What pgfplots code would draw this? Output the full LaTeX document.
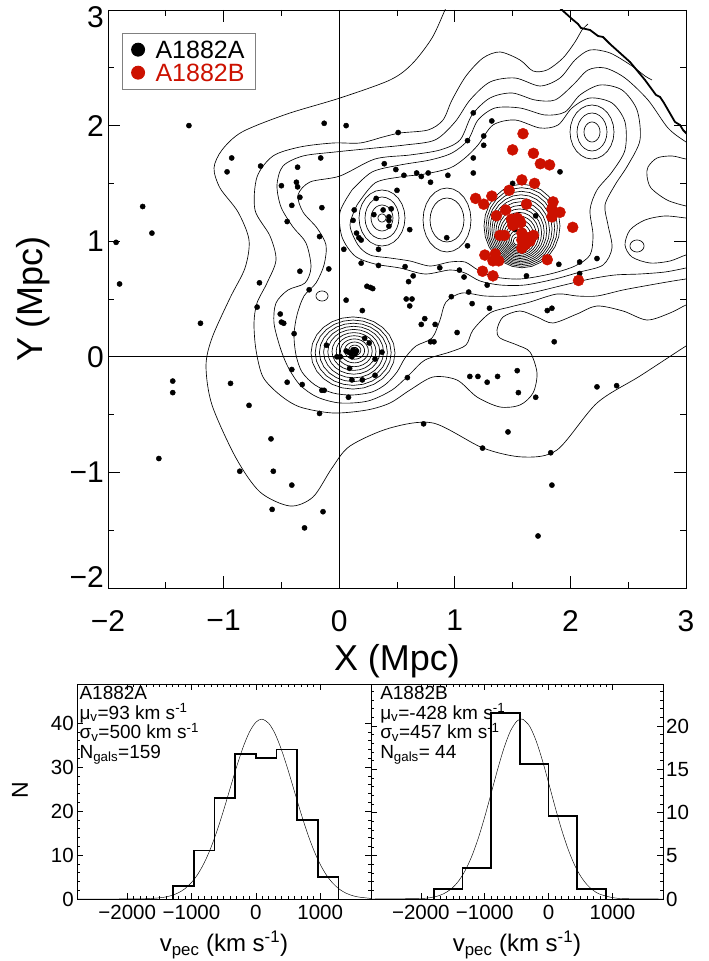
\documentclass[border=0pt]{standalone}
\usepackage{fontspec}
\setmainfont{Liberation Sans}
\usepackage{pgfplots}
\usepackage{pgfplotstable}
\pgfplotsset{compat=1.18}
\definecolor{idlred}{RGB}{204,17,0}
\pgfplotsset{cline/.style={black, line width=0.65pt, mark=none, line join=round}}
\pgfplotstableread{
c s
1 0
0.9659 0.2588
0.8660 0.5
0.7071 0.7071
0.5 0.8660
0.2588 0.9659
0 1
-0.2588 0.9659
-0.5 0.8660
-0.7071 0.7071
-0.8660 0.5
-0.9659 0.2588
-1 0
-0.9659 -0.2588
-0.8660 -0.5
-0.7071 -0.7071
-0.5 -0.8660
-0.2588 -0.9659
0 -1
0.2588 -0.9659
0.5 -0.8660
0.7071 -0.7071
0.8660 -0.5
0.9659 -0.2588
1 0
}\unitcircle
\newcommand{\ring}[4]{\addplot[cline] table[x expr={#1+#3*\thisrow{c}}, y expr={#2+#4*\thisrow{s}}]{\unitcircle};}
\begin{document}
\begin{tikzpicture}
\path[use as bounding box] (0,0) rectangle (709pt,961pt);
% ---------------- density contours (drawn in picture units of the map) ----------------
\begin{axis}[at={(108pt,373pt)}, anchor=south west, width=578pt, height=578pt, scale only axis,
  xmin=108, xmax=686, ymin=10, ymax=588, y dir=reverse, hide axis, clip=true]
% outermost level
\addplot[cline, smooth] coordinates {(449,2) (445,10) (432,38) (412,64) (390,80) (340,98) (287,114) (242,132) (222,150) (214,168) (220,188) (238,212) (249,240) (245,268) (230,298) (212,338) (206,366) (212,405) (236,458) (260,492) (290,506) (313,497) (332,468) (350,446) (390,428) (433,423) (483,448) (523,457) (557,450) (597,403) (640,376) (686,346) (700,338)};
% grid boundary
\addplot[black, line width=1.8pt, mark=none] coordinates {(552,0) (562,10) (572,19) (578,24) (581,28) (590,30) (598,36) (603,37) (610,44) (630,62) (645,80) (656,95) (660,97) (664,103) (675,122) (680,125) (683,130) (686,133) (694,142)};
% level 2
\addplot[cline, smooth] coordinates {(588,24) (582,30) (575,42) (563,58) (547,70) (533,71) (520,60) (500,52) (483,58) (466,76) (452,100) (443,120) (428,130) (400,133) (383,137) (360,143) (333,143) (300,147) (273,156) (257,177) (255,210) (270,236) (276,260) (267,283) (257,303) (254,323) (256,350) (263,377) (280,395) (300,407) (333,413) (367,410) (390,403) (410,390) (433,377) (457,380) (477,397) (500,407) (520,405) (533,393) (537,373) (530,352) (517,345) (500,338) (497,330) (503,317) (520,311) (537,317) (553,323) (577,314) (597,306) (623,311) (647,320) (670,313) (686,305) (700,300)};
% level 3
\addplot[cline, smooth] coordinates {(652,80) (645,76) (632,66) (610,53) (590,50) (575,60) (560,78) (540,86) (515,78) (490,82) (470,100) (455,122) (435,140) (405,145) (375,148) (335,152) (303,156) (283,166) (277,185) (281,207) (293,227) (306,243) (311,267) (305,283) (288,290) (276,303) (274,323) (280,347) (288,367) (300,385) (317,397) (340,403) (368,401) (392,390) (410,374) (425,360) (450,352) (466,345) (473,330) (490,313) (510,307) (530,302) (557,294) (577,296) (597,296) (623,290) (650,285) (673,281) (686,279) (700,277)};
% level 4
\addplot[cline, smooth] coordinates {(700,150) (686,142) (668,128) (648,100) (625,78) (605,68) (588,70) (573,85) (555,100) (535,100) (512,93) (490,98) (472,115) (460,140) (440,150) (410,155) (375,159) (340,176) (310,182) (298,195) (303,212) (317,228) (326,245) (324,265) (316,283) (304,296) (297,315) (294,335) (296,355) (302,372) (315,385) (333,393) (352,395) (372,392) (386,384) (397,372) (405,358) (416,346) (432,338) (440,320) (446,302) (462,293) (485,296) (510,296) (535,292) (560,286) (590,279) (615,275) (640,274) (665,272) (686,268) (700,265)};
% indentation at right edge
\addplot[cline, smooth] coordinates {(700,160) (686,159) (672,156) (657,158) (648,167) (647,176) (651,188) (667,200) (686,206) (700,208)};
% loop around the small eastern peak
\addplot[cline, smooth] coordinates {(700,219) (686,218) (665,216) (645,220) (630,230) (625,245) (632,257) (650,263) (670,261) (686,255) (700,253)};
% level 5 (closed)
\addplot[cline, smooth] coordinates {(352,190) (372,172) (400,165) (430,160) (452,153) (468,140) (478,120) (495,108) (520,108) (545,115) (565,112) (580,95) (600,85) (622,90) (637,110) (640,140) (628,165) (615,185) (605,205) (608,225) (612,248) (603,265) (580,272) (555,279) (525,285) (500,285) (480,281) (465,273) (450,270) (425,274) (400,268) (375,264) (355,256) (342,237) (340,212) (352,190)};
% level 6 (closed)
\addplot[cline, smooth] coordinates {(357,205) (375,183) (400,177) (425,174) (450,168) (465,158) (478,145) (493,125) (515,120) (540,128) (558,125) (572,108) (590,98) (612,103) (625,122) (625,150) (612,172) (597,190) (590,210) (593,235) (590,255) (575,266) (550,274) (520,279) (495,277) (478,270) (465,262) (450,262) (430,266) (410,261) (390,258) (370,255) (358,245) (350,225) (357,205)};
% small closed contours
\ring{322}{296}{6}{5}
\ring{637}{246}{7}{6}
% hole
\ring{447}{220}{24}{32}
\ring{447}{220}{17}{22}
% peak near (0.4,1.2)
\ring{382}{218}{23}{28}
\ring{382}{218}{17}{21}
\ring{382}{218}{11}{13}
\ring{382}{218}{4}{4}
% peak near (2.2,1.95)
\ring{592}{132}{22}{27}
\ring{592}{132}{15}{19}
\ring{592}{132}{8}{10}
% peak near (0.1,0.05)
\ring{353.0}{353.0}{42}{36.1}
\ring{353.2}{352.7}{38}{32.7}
\ring{353.4}{352.4}{34}{29.2}
\ring{353.6}{352.1}{30}{25.8}
\ring{353.8}{351.8}{26}{22.4}
\ring{354.0}{351.5}{22}{18.9}
\ring{354.2}{351.2}{18}{15.5}
\ring{354.4}{350.9}{14}{12.0}
\ring{354.6}{350.6}{10}{8.6}
\ring{354.8}{350.3}{6}{5.2}
\ring{355.0}{350.0}{3}{2.6}
% peak near (1.55,1.1)
\ring{522.0}{226}{38.0}{41.8}
\ring{521.7}{227}{35.7}{39.3}
\ring{521.3}{228}{33.4}{36.7}
\ring{521.0}{229}{31.1}{34.2}
\ring{520.7}{230}{28.8}{31.7}
\ring{520.3}{231}{26.5}{29.2}
\ring{520.0}{232}{24.2}{26.6}
\ring{519.7}{233}{21.9}{24.1}
\ring{519.3}{234}{19.6}{21.6}
\ring{519.0}{235}{17.3}{19.0}
\ring{518.7}{236}{15.0}{16.5}
\ring{518.3}{237}{12.7}{14.0}
\ring{518.0}{238}{10.4}{11.4}
\ring{517.7}{239}{8.1}{8.9}
\ring{517.3}{240}{5.8}{6.4}
\ring{517.0}{241}{3.5}{3.9}
\end{axis}
% ---------------- main map ----------------
\begin{axis}[at={(108pt,373pt)}, anchor=south west, width=578pt, height=578pt, scale only axis,
  xmin=-2, xmax=3, ymin=-2, ymax=3,
  xtick={-2,-1,0,1,2,3}, xticklabels={−2,−1,0,1,2,3},
  ytick={-2,-1,0,1,2,3}, yticklabels={\smash{−2},−1,0,1,2,\smash{\raisebox{-18pt}{3}}},
  minor tick num=1, tick align=inside, tick pos=both,
  major tick length=12pt, minor tick length=6pt,
  axis line style={line width=0.8pt}, tick style={line width=0.7pt, black},
  ticklabel style={font=\fontsize{30}{30}\selectfont, inner sep=4pt},
  xticklabel style={yshift=-21pt, inner sep=1pt},
  xlabel={X (Mpc)}, ylabel={Y (Mpc)},
  label style={font=\fontsize{36}{36}\selectfont, inner sep=0pt},
  xlabel style={at={(axis description cs:0.5,-0.127)}, anchor=center},
  ylabel style={at={(axis description cs:-0.13,0.5)}, anchor=center},
  legend style={at={(0.0237,0.9607)}, anchor=north west, draw=gray, line width=0.9pt, fill=white,
    inner xsep=9pt, inner ysep=5pt, font=\fontsize{25}{25}\selectfont,
    nodes={inner sep=1.5pt, text height=18.5pt, text depth=1.5pt}, row sep=0pt,
    /tikz/every odd column/.append style={column sep=9pt}},
  legend cell align=left]
\addplot[black, line width=0.6pt, forget plot] coordinates {(0,-2) (0,3)};
\addplot[black, line width=0.6pt, forget plot] coordinates {(-2,0) (3,0)};
\addplot[only marks, mark=*, mark size=2.6pt, black,
  legend image code/.code={\fill[black] (0pt,0pt) circle (6.5pt);}] coordinates {
(-1.30,2.00) (-0.13,2.02) (0.06,2.00) (0.51,1.94) (-0.93,1.72) (-0.97,1.60) (-0.68,1.65) (-0.16,1.72) (-0.36,1.64) (0.39,1.67)
(0.49,1.62) (-0.50,1.48) (-0.37,1.51) (-0.36,1.47) (-0.34,1.38) (0.50,1.44) (-1.70,1.30) (-0.41,1.31) (-0.15,1.29) (0.32,1.37)
(0.13,1.27) (0.38,1.27) (0.45,1.28) (0.43,1.21) (0.43,1.18) (0.12,1.18) (0.43,1.13) (-1.62,1.07) (-0.45,1.17) (-1.93,0.99)
(-0.17,1.04) (0.15,1.07) (0.17,1.03) (0.19,1.01) (0.04,0.93) (0.34,0.93) (0.19,0.81) (0.34,0.79) (-0.34,0.74) (-0.09,0.76)
(-1.90,0.63) (-0.69,0.64) (-0.26,0.58) (0.24,0.61) (0.27,0.60) (0.29,0.59) (-1.20,0.29) (-0.71,0.43) (-0.51,0.37) (-0.50,0.30)
(-0.48,0.29) (-0.39,0.20) (0.06,0.49) (0.20,0.40) (-0.11,0.10) (0.22,0.16) (0.26,0.12) (0.37,0.04) (0.06,0.05) (0.08,0.04)
(0.12,0.06) (0.14,0.03) (0.11,0.00) (-0.02,0.00) (0.01,0.00) (0.31,-0.02) (-0.41,-0.11) (0.09,-0.10) (-1.44,-0.21) (-1.44,-0.31)
(-0.94,-0.23) (-0.45,-0.22) (-0.32,-0.24) (0.11,-0.20) (0.20,-0.20) (0.31,-0.16) (-0.15,-0.29) (-0.13,-0.29) (0.08,-0.35) (-0.78,-0.42)
(-0.17,-0.49) (-0.59,-0.71) (-1.56,-0.88) (-0.86,-0.99) (-0.57,-0.99) (-0.41,-1.11) (-0.58,-1.32) (-0.14,-1.34) (-0.30,-1.48) (0.60,0.65)
(0.58,0.50) (0.63,0.50) (0.61,0.44) (0.74,0.33) (0.71,0.28) (0.83,0.28) (0.97,0.52) (1.12,0.56) (1.15,0.46) (1.02,0.21)
(0.79,0.13) (0.82,0.13) (0.59,-0.18) (1.13,-0.17) (1.20,-0.17) (1.28,-0.22) (1.37,-0.17) (1.54,-0.12) (1.55,-0.31) (1.70,-0.35)
(0.73,-0.58) (1.46,-0.65) (1.24,-0.79) (1.83,-0.83) (1.84,-1.11) (1.72,-1.55) (2.23,-0.26) (2.40,-0.25) (1.86,0.13) (1.80,0.40)
(1.84,0.42) (1.30,0.42) (1.28,0.62) (1.11,1.87) (1.25,1.91) (1.25,1.83) (1.16,2.11) (1.32,2.04) (1.16,1.72) (1.16,1.59)
(1.91,1.60) (0.56,1.57) (0.67,1.59) (0.71,1.56) (0.77,1.59) (0.79,1.51) (0.94,1.57) (1.50,1.50) (0.61,1.10) (0.93,1.03)
(1.11,0.96) (0.57,0.78) (0.87,0.77) (1.04,0.75) (1.08,0.69) (1.62,0.70) (1.90,0.80) (2.08,0.82) (2.23,0.85) (2.08,0.72)
(0.64,0.70) (0.30,1.23) (0.10,0.03) (0.15,0.05) (1.52,1.10) (1.60,0.98) (1.70,1.22)
};
\addlegendentry{A1882A}
\addplot[only marks, mark=*, mark size=5.5pt, idlred, mark options={draw=idlred, fill=idlred},
  legend image code/.code={\fill[idlred] (0pt,0pt) circle (6.5pt);}] coordinates {
(1.59,1.93) (1.50,1.79) (1.68,1.76) (1.74,1.67) (1.82,1.66) (1.58,1.53) (1.69,1.50) (1.47,1.44) (1.18,1.37) (1.32,1.39)
(1.25,1.32) (1.85,1.34) (1.84,1.28) (1.91,1.25) (1.62,1.32) (1.44,1.27) (1.84,1.21) (1.36,1.22) (2.02,1.12) (1.49,1.19)
(1.54,1.20) (1.56,1.18) (1.51,1.14) (1.58,1.07) (1.39,1.05) (1.43,1.05) (1.58,1.01) (1.64,1.03) (1.68,1.05) (1.58,0.94)
(1.61,0.97) (1.26,0.88) (1.35,0.89) (1.38,0.83) (1.33,0.83) (1.80,0.84) (1.24,0.74) (1.33,0.70) (2.07,0.66) (1.59,1.03)
(1.65,1.00) (1.50,1.14) (1.57,1.16) (1.62,1.01)
};
\addlegendentry{\textcolor{idlred}{A1882B}}
\end{axis}
% ---------------- velocity histogram A ----------------
\begin{axis}[at={(77pt,62pt)}, anchor=south west, width=294pt, height=215pt, scale only axis,
  xmin=-2780, xmax=1790, ymin=0, ymax=48.9, scaled x ticks=false,
  /pgf/number format/assume math mode=true,
  xtick={-2000,-1000,0,1000}, xticklabels={−2000,−1000,0,1000},
  ytick={0,10,20,30,40}, minor x tick num=9, minor y tick num=4,
  tick align=inside, tick pos=both, major tick length=6pt, minor tick length=3pt,
  axis line style={line width=0.6pt}, tick style={line width=0.5pt, black},
  ticklabel style={font=\fontsize{20.5}{20.5}\selectfont, inner sep=3pt},
  xticklabel style={yshift=-3pt},
  xlabel={v\textsubscript{pec} (km s\textsuperscript{-1})}, ylabel={N},
  xlabel style={font=\fontsize{24}{24}\selectfont, at={(axis description cs:0.5,-0.214)}, anchor=center},
  ylabel style={font=\fontsize{23}{23}\selectfont, at={(axis description cs:-0.194,0.507)}, anchor=center}]
\addplot[const plot mark left, black, line width=1.7pt] coordinates {(-1284,0) (-1284,3) (-963,11) (-642,23) (-321,33) (0,32) (321,34) (642,18) (963,5) (1284,0)};
\addplot[smooth, black, line width=0.45pt] coordinates {(-2780,0) (-2000,0.01) (-1700,0.07) (-1500,0.26) (-1400,0.47) (-1300,0.84) (-1200,1.44) (-1100,2.37) (-1000,3.75) (-900,5.69) (-800,8.30) (-700,11.63) (-600,15.65) (-500,20.24) (-400,25.15) (-300,30.03) (-200,34.45) (-100,37.96) (0,40.20) (93,40.9) (200,39.97) (300,37.54) (400,33.87) (500,29.37) (600,24.46) (700,19.57) (800,15.05) (900,11.12) (1000,7.89) (1100,5.38) (1200,3.53) (1300,2.22) (1400,1.34) (1500,0.78) (1600,0.44) (1790,0.13)};
\node[anchor=north west, align=left, inner sep=0pt, font=\fontsize{19}{19.5}\selectfont] at (axis description cs:0.008,0.99)
  {A1882A\\μ\textsubscript{v}=93 km s\textsuperscript{-1}\\σ\textsubscript{v}=500 km s\textsuperscript{-1}\\N\textsubscript{gals}=159};
\end{axis}
% ---------------- velocity histogram B ----------------
\begin{axis}[at={(371pt,62pt)}, anchor=south west, width=292pt, height=215pt, scale only axis,
  xmin=-2780, xmax=1790, ymin=0, ymax=24.85, scaled x ticks=false,
  /pgf/number format/assume math mode=true,
  xtick={-2000,-1000,0,1000}, xticklabels={−2000,−1000,0,1000},
  ytick={0,5,10,15,20,25}, minor x tick num=9, minor y tick num=4,
  tick align=inside, tick pos=both, yticklabel pos=right, major tick length=6pt, minor tick length=3pt,
  axis line style={line width=0.6pt}, tick style={line width=0.5pt, black},
  ticklabel style={font=\fontsize{20.5}{20.5}\selectfont, inner sep=3pt},
  xticklabel style={yshift=-3pt},
  xlabel={v\textsubscript{pec} (km s\textsuperscript{-1})},
  xlabel style={font=\fontsize{24}{24}\selectfont, at={(axis description cs:0.5,-0.214)}, anchor=center}]
\addplot[const plot mark left, black, line width=1.7pt] coordinates {(-1795,0) (-1795,1.16) (-1347,3.62) (-899,21.5) (-451,15.57) (-3,9.56) (445,1.16) (893,0)};
\addplot[smooth, black, line width=0.45pt] coordinates {(-2780,0) (-2000,0.06) (-1800,0.23) (-1700,0.43) (-1600,0.78) (-1500,1.33) (-1400,2.17) (-1300,3.37) (-1200,4.99) (-1100,7.05) (-1000,9.50) (-900,12.20) (-800,14.93) (-700,17.42) (-600,19.38) (-500,20.54) (-428,20.8) (-400,20.76) (-300,20.00) (-200,18.37) (-100,16.08) (0,13.42) (100,10.67) (200,8.09) (300,5.85) (400,4.03) (500,2.65) (600,1.66) (700,0.99) (800,0.56) (1000,0.16) (1200,0.04) (1790,0)};
\node[anchor=north west, align=left, inner sep=0pt, font=\fontsize{19}{19.5}\selectfont] at (axis description cs:0.031,0.99)
  {A1882B\\μ\textsubscript{v}=-428 km s\textsuperscript{-1}\\σ\textsubscript{v}=457 km s\textsuperscript{-1}\\N\textsubscript{gals}= 44};
\end{axis}
\end{tikzpicture}
\end{document}
